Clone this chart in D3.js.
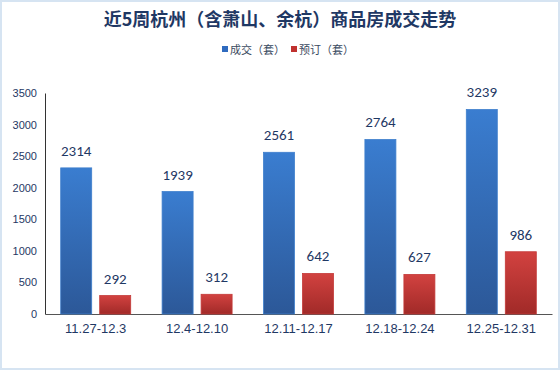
<!DOCTYPE html>
<html>
<head>
<meta charset="utf-8">
<script src="https://cdn.jsdelivr.net/npm/d3@7"></script>
<style>
  body { margin: 0; background: #fff; }
  svg { display: block; font-family: Calibri, Carlito, "Noto Sans", "Noto Sans CJK SC", sans-serif; }
</style>
</head>
<body>
<svg id="chart"></svg>
<script>
const weeks = ["11.27-12.3", "12.4-12.10", "12.11-12.17", "12.18-12.24", "12.25-12.31"];
const dealt = [2314, 1939, 2561, 2764, 3239];
const booked = [292, 312, 642, 627, 986];
const seriesNames = ["成交（套）", "预订（套）"];
const yTicks = [0, 500, 1000, 1500, 2000, 2500, 3000, 3500];

const width = 560;
const height = 370;
const margin = { top: 93, right: 8, bottom: 56, left: 45 };

const svg = d3.select("#chart").attr("width", width).attr("height", height);

// gradients for the bars
const defs = svg.append("defs");
const blueGrad = defs.append("linearGradient").attr("id", "blue").attr("x1", 0).attr("x2", 0).attr("y1", 0).attr("y2", 1);
blueGrad.append("stop").attr("offset", "0%").attr("stop-color", "#3a7dd0");
blueGrad.append("stop").attr("offset", "100%").attr("stop-color", "#2c5898");
const redGrad = defs.append("linearGradient").attr("id", "red").attr("x1", 0).attr("x2", 0).attr("y1", 0).attr("y2", 1);
redGrad.append("stop").attr("offset", "0%").attr("stop-color", "#d24240");
redGrad.append("stop").attr("offset", "100%").attr("stop-color", "#a12a28");

// border
svg.append("rect")
  .attr("x", 1).attr("y", 1)
  .attr("width", width - 2).attr("height", height - 2)
  .attr("fill", "#fff")
  .attr("stroke", "#d6e4f2")
  .attr("stroke-width", 2);

svg.append("text")
  .attr("x", 280).attr("y", 26)
  .attr("text-anchor", "middle")
  .attr("font-size", 18)
  .attr("font-weight", "bold")
  .attr("font-family", "'Noto Sans CJK SC', sans-serif")
  .attr("fill", "#1f3864")
  .text("近5周杭州（含萧山、余杭）商品房成交走势");

// legend
const legend = svg.append("g").attr("font-family", "'Noto Sans CJK SC', sans-serif").attr("font-size", 11);
const legendItems = [
  { name: seriesNames[0], color: "#2f6bbf", x: 222 },
  { name: seriesNames[1], color: "#c0312f", x: 291 }
];
legendItems.forEach((d) => {
  legend.append("rect").attr("x", d.x).attr("y", 46).attr("width", 6).attr("height", 6).attr("fill", d.color);
  legend.append("text").attr("x", d.x + 8).attr("y", 53.5).attr("fill", "#3a4a60").text(d.name);
});

const x = d3.scaleBand()
  .domain(weeks)
  .range([margin.left, width - margin.right])
  .paddingInner(0)
  .paddingOuter(0);

const y = d3.scaleLinear()
  .domain([0, 3500])
  .range([height - margin.bottom, margin.top]);

const barW = 31;
const gap = 8;

// y axis
const yAxis = svg.append("g")
  .attr("transform", `translate(${margin.left},0)`)
  .call(d3.axisLeft(y).tickValues(yTicks).tickFormat(d3.format("d")).tickSize(0).tickPadding(8));
yAxis.select(".domain").attr("stroke", "#333").attr("stroke-width", 1);
yAxis.selectAll("text").attr("font-size", 11).attr("fill", "#1f3864");

// x axis
const xAxis = svg.append("g")
  .attr("transform", `translate(0,${y(0)})`)
  .call(d3.axisBottom(x).tickSize(0).tickPadding(10));
xAxis.select(".domain").attr("stroke", "#555").attr("stroke-width", 1.2);
xAxis.selectAll("text").attr("font-size", 13).attr("fill", "#1f3864");

const series = [
  { values: dealt, fill: "url(#blue)", stroke: "#3f7fcc", offset: -(gap / 2 + barW) },
  { values: booked, fill: "url(#red)", stroke: "#c43a38", offset: gap / 2 }
];

series.forEach((s) => {
  const g = svg.append("g");
  g.selectAll("rect")
    .data(s.values)
    .enter()
    .append("rect")
    .attr("x", (d, i) => x(weeks[i]) + x.bandwidth() / 2 + s.offset)
    .attr("y", (d) => y(d))
    .attr("width", barW)
    .attr("height", (d) => y(0) - y(d))
    .attr("fill", s.fill)
    .attr("stroke", s.stroke)
    .attr("stroke-width", 0.8);
  g.selectAll("text")
    .data(s.values)
    .enter()
    .append("text")
    .attr("x", (d, i) => x(weeks[i]) + x.bandwidth() / 2 + s.offset + barW / 2)
    .attr("y", (d) => y(d) - 12)
    .attr("text-anchor", "middle")
    .attr("font-size", 15)
    .attr("fill", "#1f3864")
    .text((d) => d);
});
</script>
</body>
</html>
